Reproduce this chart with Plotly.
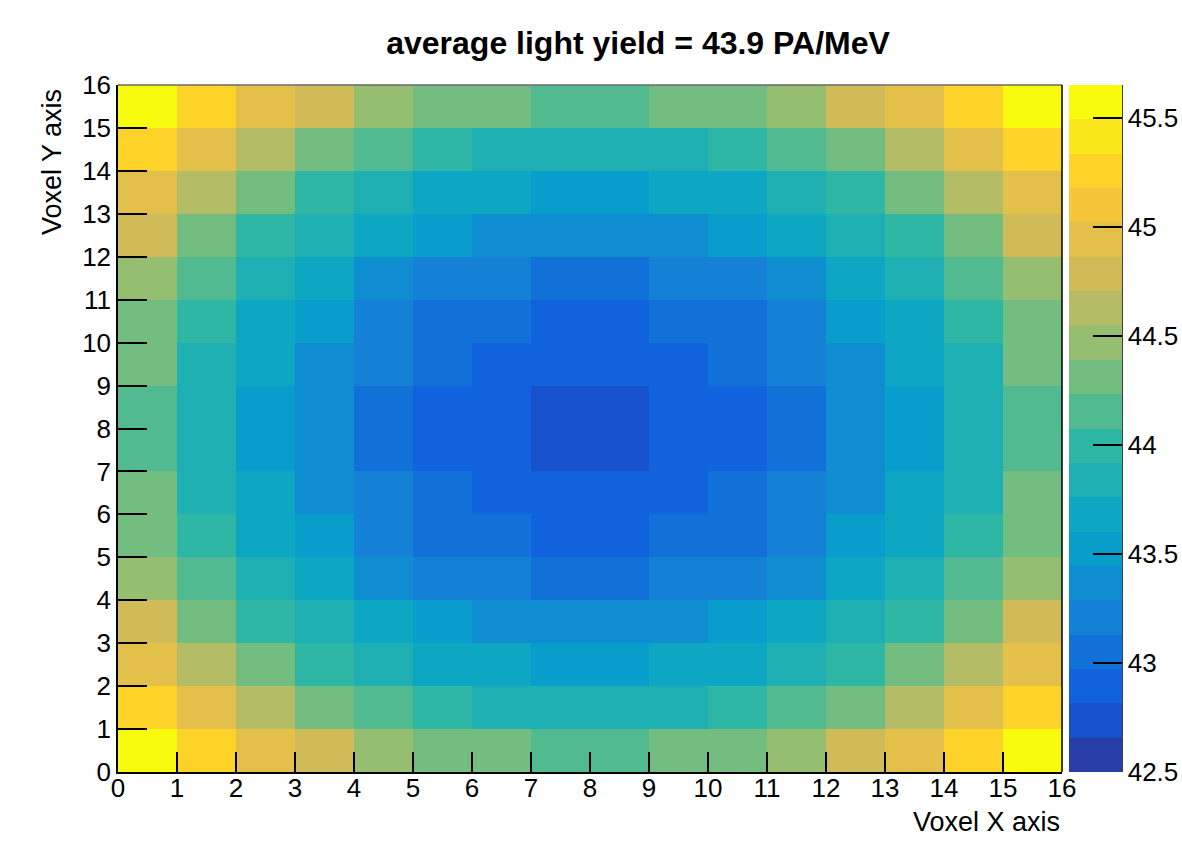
import numpy as np
import plotly.graph_objects as go

# ---------------- data ----------------
title_text = "average light yield = 43.9 PA/MeV"
x_label = "Voxel X axis"
y_label = "Voxel Y axis"
x_bins = [0.5, 1.5, 2.5, 3.5, 4.5, 5.5, 6.5, 7.5, 8.5, 9.5, 10.5, 11.5, 12.5, 13.5, 14.5, 15.5]
y_bins = [0.5, 1.5, 2.5, 3.5, 4.5, 5.5, 6.5, 7.5, 8.5, 9.5, 10.5, 11.5, 12.5, 13.5, 14.5, 15.5]
# light yield per voxel (PA/MeV), rows from y=0 (bottom) to y=15 (top)
light_yield = [
    [45.57, 45.26, 44.94, 44.78, 44.47, 44.31, 44.31, 44.15, 44.15, 44.31, 44.31, 44.47, 44.78, 44.94, 45.26, 45.57],
    [45.26, 44.94, 44.63, 44.31, 44.15, 44.00, 43.84, 43.84, 43.84, 43.84, 44.00, 44.15, 44.31, 44.63, 44.94, 45.26],
    [44.94, 44.63, 44.31, 44.00, 43.84, 43.68, 43.68, 43.52, 43.52, 43.68, 43.68, 43.84, 44.00, 44.31, 44.63, 44.94],
    [44.78, 44.31, 44.00, 43.84, 43.68, 43.52, 43.37, 43.37, 43.37, 43.37, 43.52, 43.68, 43.84, 44.00, 44.31, 44.78],
    [44.47, 44.15, 43.84, 43.68, 43.37, 43.21, 43.21, 43.05, 43.05, 43.21, 43.21, 43.37, 43.68, 43.84, 44.15, 44.47],
    [44.31, 44.00, 43.68, 43.52, 43.21, 43.05, 43.05, 42.89, 42.89, 43.05, 43.05, 43.21, 43.52, 43.68, 44.00, 44.31],
    [44.31, 43.84, 43.68, 43.37, 43.21, 43.05, 42.89, 42.89, 42.89, 42.89, 43.05, 43.21, 43.37, 43.68, 43.84, 44.31],
    [44.15, 43.84, 43.52, 43.37, 43.05, 42.89, 42.89, 42.74, 42.74, 42.89, 42.89, 43.05, 43.37, 43.52, 43.84, 44.15],
    [44.15, 43.84, 43.52, 43.37, 43.05, 42.89, 42.89, 42.74, 42.74, 42.89, 42.89, 43.05, 43.37, 43.52, 43.84, 44.15],
    [44.31, 43.84, 43.68, 43.37, 43.21, 43.05, 42.89, 42.89, 42.89, 42.89, 43.05, 43.21, 43.37, 43.68, 43.84, 44.31],
    [44.31, 44.00, 43.68, 43.52, 43.21, 43.05, 43.05, 42.89, 42.89, 43.05, 43.05, 43.21, 43.52, 43.68, 44.00, 44.31],
    [44.47, 44.15, 43.84, 43.68, 43.37, 43.21, 43.21, 43.05, 43.05, 43.21, 43.21, 43.37, 43.68, 43.84, 44.15, 44.47],
    [44.78, 44.31, 44.00, 43.84, 43.68, 43.52, 43.37, 43.37, 43.37, 43.37, 43.52, 43.68, 43.84, 44.00, 44.31, 44.78],
    [44.94, 44.63, 44.31, 44.00, 43.84, 43.68, 43.68, 43.52, 43.52, 43.68, 43.68, 43.84, 44.00, 44.31, 44.63, 44.94],
    [45.26, 44.94, 44.63, 44.31, 44.15, 44.00, 43.84, 43.84, 43.84, 43.84, 44.00, 44.15, 44.31, 44.63, 44.94, 45.26],
    [45.57, 45.26, 44.94, 44.78, 44.47, 44.31, 44.31, 44.15, 44.15, 44.31, 44.31, 44.47, 44.78, 44.94, 45.26, 45.57],
]
z_min = 42.5
z_max = 45.65
n_levels = 20
cbar_ticks = [42.5, 43, 43.5, 44, 44.5, 45, 45.5]
cbar_ticktext = ["42.5", "43", "43.5", "44", "44.5", "45", "45.5"]
axis_ticks = list(range(0, 17))

# ------------- ROOT kBird palette, discretised into contour levels -------------
stops = np.array([0.0, 0.125, 0.25, 0.375, 0.5, 0.625, 0.75, 0.875, 1.0])
red = np.array([0.2082, 0.0592, 0.0780, 0.0232, 0.1802, 0.5301, 0.8186, 0.9956, 0.9764])
green = np.array([0.1664, 0.3599, 0.5041, 0.6419, 0.7178, 0.7492, 0.7328, 0.7862, 0.9832])
blue = np.array([0.5293, 0.8684, 0.8385, 0.7914, 0.6425, 0.4662, 0.3499, 0.1968, 0.0539])
ncol = 255


def palette_color(idx):
    t = idx / (ncol - 1)
    r = np.interp(t, stops, red)
    g = np.interp(t, stops, green)
    b = np.interp(t, stops, blue)
    return "rgb(%d,%d,%d)" % (round(r * 255), round(g * 255), round(b * 255))


colorscale = []
for k in range(n_levels):
    idx = int((k + 0.99) * ncol / n_levels)
    idx = min(idx, ncol - 1)
    c = palette_color(idx)
    colorscale.append([k / n_levels, c])
    colorscale.append([(k + 1) / n_levels, c])

# ---------------- layout geometry ----------------
W, H = 1182, 859
L, R, T, B = 118, 1062, 85, 772
pw, ph = R - L, B - T
font_family = "Liberation Sans, Arial, Helvetica, sans-serif"

fig = go.Figure()
fig.add_trace(go.Heatmap(
    x=x_bins, y=y_bins, z=light_yield,
    zmin=z_min, zmax=z_max,
    colorscale=colorscale,
    showscale=True,
    colorbar=dict(
        x=(1069 - L) / pw, xanchor="left", xpad=0,
        y=0.5, yanchor="middle", len=1.0, lenmode="fraction", ypad=0,
        thickness=53, thicknessmode="pixels",
        outlinewidth=0,
        tickmode="array", tickvals=cbar_ticks, ticktext=cbar_ticktext,
        ticks="inside", ticklen=29, tickwidth=1.5, tickcolor="black",
        tickfont=dict(family=font_family, size=26, color="black"),
    ),
))

fig.update_xaxes(
    range=[0, 16], tickmode="array", tickvals=axis_ticks,
    ticks="inside", ticklen=20, tickwidth=1.5, tickcolor="black",
    showline=True, linecolor="black", linewidth=1.5, mirror=False,
    showgrid=False, zeroline=False, automargin=False,
    ticklabelstandoff=-8,
    tickfont=dict(family=font_family, size=26, color="black"),
)
fig.update_yaxes(
    range=[0, 16], tickmode="array", tickvals=axis_ticks,
    ticks="inside", ticklen=29, tickwidth=1.5, tickcolor="black",
    showline=True, linecolor="black", linewidth=1.5, mirror=False,
    showgrid=False, zeroline=False, automargin=False,
    tickfont=dict(family=font_family, size=26, color="black"),
)

# frame top (grey) and right (black), colorbar right edge
fig.add_shape(type="line", xref="paper", yref="paper", x0=0, x1=1, y0=1, y1=1,
              line=dict(color="#6b6b6b", width=1.5))
fig.add_shape(type="line", xref="paper", yref="paper", x0=1, x1=1, y0=0, y1=1,
              line=dict(color="black", width=1.5))
fig.add_shape(type="line", xref="paper", yref="paper",
              x0=(1122 - L) / pw, x1=(1122 - L) / pw, y0=0, y1=1,
              line=dict(color="black", width=1.5))

fig.add_annotation(text=x_label, xref="paper", yref="paper",
                   x=1.0, xanchor="right", y=(B - 822) / ph, yanchor="middle",
                   showarrow=False, font=dict(family=font_family, size=27, color="black"))
fig.add_annotation(text=y_label, xref="paper", yref="paper", textangle=-90,
                   x=(52 - L) / pw, xanchor="center", y=1 - 2 / ph, yanchor="top",
                   showarrow=False, font=dict(family=font_family, size=27, color="black"))

fig.update_layout(
    width=W, height=H,
    margin=dict(l=L, r=W - R, t=T, b=H - B, pad=0, autoexpand=False),
    paper_bgcolor="white", plot_bgcolor="white",
    title=dict(text="<b>" + title_text + "</b>", x=638 / W, xanchor="center",
               y=1 - 43 / H, yanchor="middle", xref="container", yref="container",
               font=dict(family=font_family, size=32, color="black")),
    showlegend=False,
)

fig.write_html("out.html")
